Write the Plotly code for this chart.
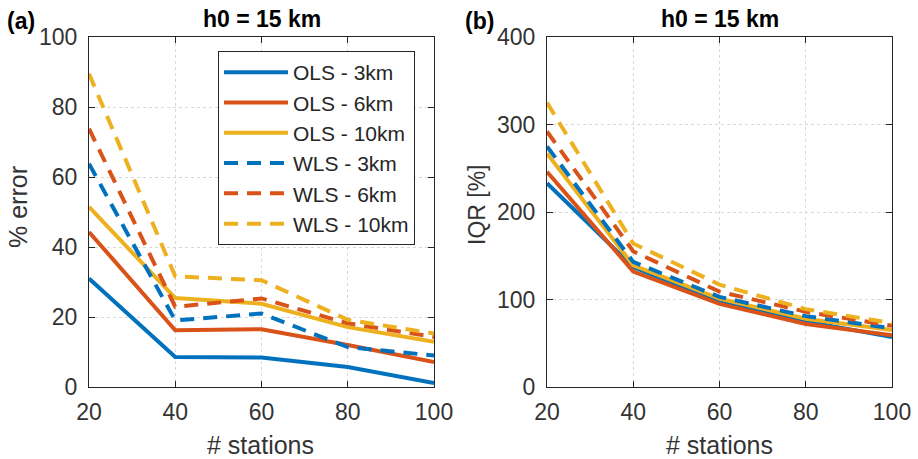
import plotly.graph_objects as go

stations = [20, 40, 60, 80, 100]
series_names = ["OLS - 3km", "OLS - 6km", "OLS - 10km", "WLS - 3km", "WLS - 6km", "WLS - 10km"]

# panel (a): % error
err_ols_3 = [31.0, 8.6, 8.4, 5.7, 1.1]
err_ols_6 = [44.3, 16.2, 16.5, 12.0, 7.1]
err_ols_10 = [51.5, 25.4, 23.8, 17.1, 12.9]
err_wls_3 = [63.8, 19.0, 21.0, 11.4, 9.0]
err_wls_6 = [73.8, 22.9, 25.3, 18.2, 14.3]
err_wls_10 = [89.5, 31.6, 30.5, 19.2, 15.3]

# panel (b): IQR [%]
iqr_ols_3 = [233, 137, 97, 75, 57]
iqr_ols_6 = [246, 132, 95, 72, 59]
iqr_ols_10 = [267, 139, 101, 78, 65]
iqr_wls_3 = [275, 143, 103, 81, 67]
iqr_wls_6 = [292, 155, 109, 86, 70]
iqr_wls_10 = [325, 164, 117, 89, 73]

colors = ["#0072BD", "#D95319", "#EDB120"]
dash_style = "14px,9px"

fig = go.Figure()
err_sets = [err_ols_3, err_ols_6, err_ols_10, err_wls_3, err_wls_6, err_wls_10]
iqr_sets = [iqr_ols_3, iqr_ols_6, iqr_ols_10, iqr_wls_3, iqr_wls_6, iqr_wls_10]

for i, (name, vals) in enumerate(zip(series_names, err_sets)):
    fig.add_trace(go.Scatter(
        x=stations, y=vals, mode="lines", name=name,
        line=dict(color=colors[i % 3], width=4, dash="solid" if i < 3 else dash_style),
        xaxis="x", yaxis="y", legendgroup=name, showlegend=True))
for i, (name, vals) in enumerate(zip(series_names, iqr_sets)):
    fig.add_trace(go.Scatter(
        x=stations, y=vals, mode="lines", name=name,
        line=dict(color=colors[i % 3], width=4, dash="solid" if i < 3 else dash_style),
        xaxis="x2", yaxis="y2", legendgroup=name, showlegend=False))

font_family = "Liberation Sans, Arial, sans-serif"
axis_common = dict(
    showline=True, linecolor="#262626", linewidth=1, mirror="ticks",
    ticks="inside", ticklen=6, tickcolor="#262626", automargin=False,
    showgrid=True, gridcolor="#d8d8d8", griddash="dot", gridwidth=1,
    zeroline=False, tickfont=dict(size=23, color="#333333", family=font_family),
)

ydom = [1 - 387 / 459, 1 - 37 / 459]
fig.update_layout(
    width=918, height=459,
    margin=dict(l=0, r=0, t=0, b=0),
    paper_bgcolor="white", plot_bgcolor="white",
    font=dict(family=font_family, color="#262626"),
    xaxis=dict(domain=[89 / 918, 434 / 918], range=[20, 100], tickvals=[20, 40, 60, 80, 100],
               anchor="y", ticklabelstandoff=4, **axis_common),
    yaxis=dict(domain=ydom, range=[0, 100], tickvals=[0, 20, 40, 60, 80, 100],
               anchor="x", ticklabelstandoff=6, **axis_common),
    xaxis2=dict(domain=[547 / 918, 892 / 918], range=[20, 100], tickvals=[20, 40, 60, 80, 100],
                anchor="y2", ticklabelstandoff=4, **axis_common),
    yaxis2=dict(domain=ydom, range=[0, 400], tickvals=[0, 100, 200, 300, 400],
                anchor="x2", ticklabelstandoff=6, **axis_common),
    legend=dict(x=218 / 918, y=1 - 51 / 459, xanchor="left", yanchor="top",
                bgcolor="white", bordercolor="#262626", borderwidth=1,
                font=dict(size=21, color="#262626", family=font_family),
                tracegroupgap=0, itemwidth=64),
    annotations=[
        dict(text="<b>h0 = 15 km</b>", x=262 / 918, y=1 - 19 / 459, xref="paper", yref="paper",
             showarrow=False, font=dict(size=23, color="black"), xanchor="center", yanchor="middle"),
        dict(text="<b>h0 = 15 km</b>", x=720 / 918, y=1 - 19 / 459, xref="paper", yref="paper",
             showarrow=False, font=dict(size=23, color="black"), xanchor="center", yanchor="middle"),
        dict(text="<b>(a)</b>", x=5 / 918, y=1 - 21 / 459, xref="paper", yref="paper",
             showarrow=False, font=dict(size=23, color="black"), xanchor="left", yanchor="middle"),
        dict(text="<b>(b)</b>", x=463 / 918, y=1 - 21 / 459, xref="paper", yref="paper",
             showarrow=False, font=dict(size=23, color="black"), xanchor="left", yanchor="middle"),
        dict(text="# stations", x=260 / 918, y=1 - 445 / 459, xref="paper", yref="paper",
             showarrow=False, font=dict(size=25, color="#333333"), xanchor="center", yanchor="middle"),
        dict(text="# stations", x=719 / 918, y=1 - 445 / 459, xref="paper", yref="paper",
             showarrow=False, font=dict(size=25, color="#333333"), xanchor="center", yanchor="middle"),
        dict(text="% error", x=18 / 918, y=1 - 207 / 459, xref="paper", yref="paper", textangle=-90,
             showarrow=False, font=dict(size=25, color="#333333"), xanchor="center", yanchor="middle"),
        dict(text="IQR [%]", x=477 / 918, y=1 - 205 / 459, xref="paper", yref="paper", textangle=-90,
             showarrow=False, font=dict(size=23, color="#333333"), xanchor="center", yanchor="middle"),
    ],
)

fig.write_html("out.html", config={"displayModeBar": False},
               post_script="document.body.style.margin='0';document.body.style.padding='0';")
